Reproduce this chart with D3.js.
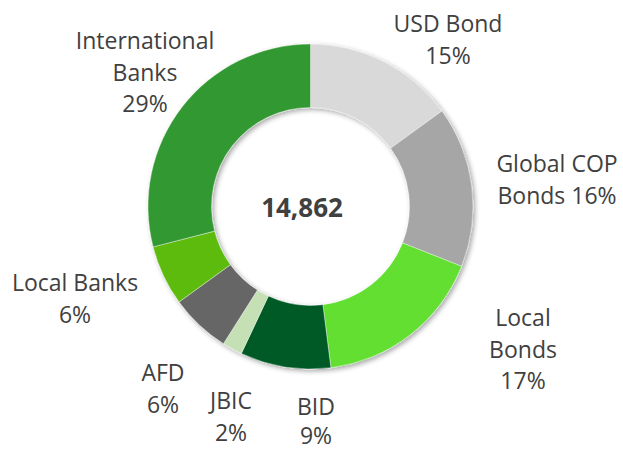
<!DOCTYPE html>
<html>
<head>
<meta charset="utf-8">
<script src="https://cdn.jsdelivr.net/npm/d3@7/dist/d3.min.js"></script>
<style>
  html, body { margin: 0; padding: 0; background: #ffffff; }
  svg { display: block; }
</style>
</head>
<body>
<script>
const categories = ["USD Bond", "Global COP Bonds", "Local Bonds", "BID", "JBIC", "AFD", "Local Banks", "International Banks"];
const shares = [15, 16, 17, 9, 2, 6, 6, 29];
const colors = ["#d9d9d9", "#a6a6a6", "#63df33", "#005a25", "#c5e0b4", "#666666", "#5cbb0f", "#339933"];
const labelLines = [
  ["USD Bond", "15%"],
  ["Global COP", "Bonds 16%"],
  ["Local", "Bonds", "17%"],
  ["BID", "9%"],
  ["JBIC", "2%"],
  ["AFD", "6%"],
  ["Local Banks", "6%"],
  ["International", "Banks", "29%"]
];
const totalLabel = "14,862";

const W = 623, H = 451;
const cx = 310.5, cy = 206.5;
const outerR = 162.5, innerR = 99;

const svg = d3.select("body").append("svg").attr("width", W).attr("height", H);

const defs = svg.append("defs");
const f = defs.append("filter").attr("id", "shadow").attr("x", "-20%").attr("y", "-20%").attr("width", "140%").attr("height", "140%");
f.append("feDropShadow").attr("dx", 2).attr("dy", 2).attr("stdDeviation", 2.5).attr("flood-color", "#000").attr("flood-opacity", 0.35);

const pie = d3.pie().sort(null).value(d => d.v);
const data = categories.map((c, i) => ({ c, v: shares[i], i }));
const arcs = pie(data);
const arc = d3.arc().innerRadius(innerR).outerRadius(outerR);

const g = svg.append("g").attr("transform", `translate(${cx},${cy})`).attr("filter", "url(#shadow)");
g.selectAll("path").data(arcs).enter().append("path")
  .attr("d", arc)
  .attr("fill", d => colors[d.data.i])
  .attr("stroke", "#ffffff")
  .attr("stroke-width", 0.4);

// label anchors: [center x, first baseline y, line spacing]
const labelPos = [
  [448, 32, 31.5],
  [557, 172, 31.5],
  [523, 326, 31.5],
  [316, 415, 29],
  [231, 409, 31.5],
  [163, 381, 31.5],
  [75, 291, 31.5],
  [145, 49, 31.5]
];
const fontFam = "'Open Sans', Lato, sans-serif";

const lg = svg.append("g");
labelLines.forEach((lines, i) => {
  const t = lg.append("text")
    .attr("text-anchor", "middle")
    .attr("font-family", fontFam)
    .attr("font-size", 23)
    .attr("fill", "#404040");
  lines.forEach((ln, j) => {
    t.append("tspan").attr("x", labelPos[i][0]).attr("y", labelPos[i][1] + j * labelPos[i][2]).text(ln);
  });
});

svg.append("text")
  .attr("x", 302).attr("y", 217)
  .attr("text-anchor", "middle")
  .attr("font-family", fontFam)
  .attr("font-weight", "bold")
  .attr("font-size", 26)
  .attr("fill", "#404040")
  .text(totalLabel);
</script>
</body>
</html>
